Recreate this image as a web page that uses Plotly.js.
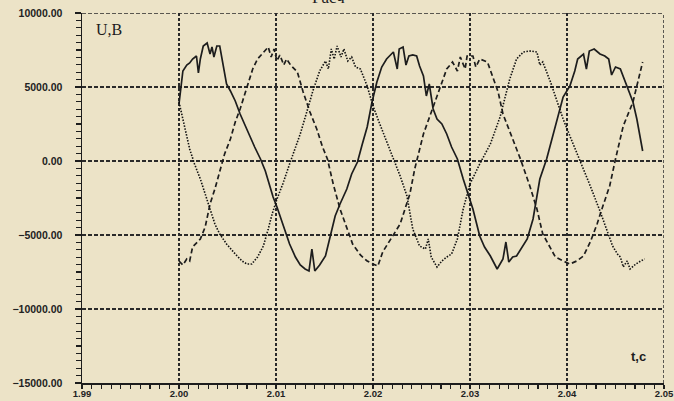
<!DOCTYPE html>
<html>
<head>
<meta charset="utf-8">
<script src="https://cdn.plot.ly/plotly-3.0.1.min.js"></script>
<style>
  html, body { margin: 0; padding: 0; background: #ece3c7; }
  #chart { width: 674px; height: 401px; }
</style>
</head>
<body>
<div id="chart"></div>
<script>
// Phase 1 (solid line)
const tSolid = [2.0000,2.0004,2.0008,2.0011,2.0014,2.0018,2.0020,2.0022,2.0025,2.0029,2.0032,2.0034,2.0036,2.0039,2.0042,2.0044,2.0047,2.0049,2.0053,2.0058,2.0063,2.0068,2.0073,2.0078,2.0084,2.0089,2.0094,2.0097,2.0101,2.0107,2.0114,2.0120,2.0125,2.0130,2.0134,2.0137,2.0140,2.0145,2.0151,2.0156,2.0161,2.0166,2.0173,2.0178,2.0184,2.0189,2.0194,2.0199,2.0204,2.0209,2.0214,2.0221,2.0225,2.0227,2.0231,2.0234,2.0237,2.0241,2.0245,2.0248,2.0252,2.0255,2.0258,2.0262,2.0266,2.0271,2.0276,2.0281,2.0287,2.0293,2.0300,2.0303,2.0310,2.0315,2.0321,2.0328,2.0334,2.0337,2.0340,2.0344,2.0348,2.0354,2.0359,2.0365,2.0369,2.0372,2.0379,2.0385,2.0390,2.0396,2.0403,2.0408,2.0411,2.0417,2.0420,2.0423,2.0428,2.0434,2.0439,2.0443,2.0446,2.0450,2.0455,2.0459,2.0462,2.0468,2.0472,2.0475,2.0478];
const uSolid = [3851,6081,6487,6622,6892,7095,5946,6892,7771,7973,7230,7703,7027,7771,7771,7095,6014,5203,4730,4054,3176,2365,1689,946,135,-676,-1757,-2433,-3108,-4257,-5608,-6487,-7027,-7298,-7433,-5946,-7433,-7027,-6419,-5068,-3716,-2906,-1892,-878,-68,1149,2297,3987,5338,6352,6892,7365,6216,7568,7703,6487,7095,7162,7095,6419,5743,4392,5203,3514,2838,2500,1824,946,135,-1216,-2568,-3243,-5068,-5811,-6419,-7298,-6622,-5473,-6825,-6487,-6419,-5811,-5270,-3919,-2433,-1216,135,1622,2838,4324,5068,6081,6892,7230,6216,7433,7568,7230,7095,6892,5811,6352,6216,5541,5068,3987,2838,1824,676];

// Phase 2 (dashed line)
const tDash = [2.0000,2.0004,2.0008,2.0011,2.0014,2.0022,2.0027,2.0032,2.0037,2.0042,2.0047,2.0053,2.0058,2.0063,2.0070,2.0076,2.0081,2.0087,2.0092,2.0095,2.0098,2.0101,2.0104,2.0108,2.0111,2.0115,2.0122,2.0128,2.0135,2.0142,2.0148,2.0153,2.0159,2.0166,2.0173,2.0179,2.0187,2.0194,2.0200,2.0205,2.0210,2.0218,2.0228,2.0233,2.0238,2.0243,2.0252,2.0262,2.0269,2.0276,2.0282,2.0287,2.0290,2.0295,2.0297,2.0303,2.0306,2.0310,2.0318,2.0324,2.0329,2.0334,2.0341,2.0352,2.0362,2.0369,2.0375,2.0383,2.0388,2.0396,2.0403,2.0410,2.0417,2.0424,2.0431,2.0437,2.0444,2.0450,2.0458,2.0468,2.0478];
const uDash = [-6757,-7027,-6622,-6757,-5811,-5270,-4460,-2906,-1892,-676,473,1487,2635,3514,5000,6216,6892,7365,7703,7027,7568,6757,7162,6487,6892,6487,6014,4662,3311,2162,946,135,-1554,-3243,-4460,-5608,-6352,-6757,-6960,-7095,-6149,-5270,-4257,-3243,-2230,-541,1824,3649,5000,6216,6689,6081,7027,6216,7095,7095,6352,6892,6689,5541,4662,3176,1960,135,-1757,-3243,-4933,-5946,-6487,-6757,-6960,-6757,-6419,-5473,-4257,-3041,-1689,135,2365,3987,6689];

// Phase 3 (dotted line)
const tDot = [2.0000,2.0006,2.0011,2.0016,2.0022,2.0027,2.0032,2.0037,2.0042,2.0049,2.0058,2.0065,2.0070,2.0075,2.0081,2.0087,2.0092,2.0096,2.0101,2.0107,2.0114,2.0125,2.0132,2.0138,2.0145,2.0151,2.0154,2.0157,2.0160,2.0163,2.0167,2.0170,2.0174,2.0178,2.0182,2.0187,2.0194,2.0200,2.0207,2.0218,2.0228,2.0235,2.0241,2.0248,2.0254,2.0257,2.0260,2.0266,2.0271,2.0276,2.0281,2.0287,2.0293,2.0300,2.0310,2.0321,2.0331,2.0341,2.0348,2.0355,2.0362,2.0369,2.0372,2.0375,2.0383,2.0390,2.0396,2.0403,2.0413,2.0424,2.0434,2.0441,2.0447,2.0452,2.0455,2.0458,2.0462,2.0465,2.0471,2.0476,2.0480];
const uDot = [3987,2162,811,-203,-1216,-2230,-3243,-4257,-4933,-5608,-6284,-6757,-6960,-6960,-6487,-5743,-4595,-3581,-2568,-1554,-203,1824,3379,4730,6081,6757,6216,7568,6892,7771,7027,7568,6757,7027,6352,6216,5068,3716,2500,608,-1014,-2365,-4595,-5743,-5946,-5270,-6487,-7162,-6757,-6487,-6284,-5270,-3243,-1554,-203,1149,2973,5541,6892,7365,7433,7365,6487,6689,5338,3987,2838,1689,135,-1689,-3379,-4595,-5743,-6284,-6487,-7162,-6757,-7298,-6960,-6757,-6622];

const xTicks = [1.99, 2.00, 2.01, 2.02, 2.03, 2.04, 2.05];
const yTicks = [-15000, -10000, -5000, 0, 5000, 10000];

const ink = '#1d1d1d';
const paper = '#ece3c7';

const traces = [
  {x: tSolid, y: uSolid, mode: 'lines', line: {color: ink, width: 1.7, dash: 'solid'}},
  {x: tDash, y: uDash, mode: 'lines', line: {color: ink, width: 1.7, dash: '5px,3px'}},
  {x: tDot, y: uDot, mode: 'lines', line: {color: '#111', width: 1.6, dash: '1.5px,1.5px'}}
];

const tickFont = {family: 'Liberation Sans, Arial, sans-serif', size: 10.5, color: '#222', weight: 'bold'};

const layout = {
  width: 674, height: 401,
  margin: {l: 82, r: 10, t: 13, b: 18, pad: 0},
  paper_bgcolor: paper,
  plot_bgcolor: paper,
  showlegend: false,
  xaxis: {
    range: [1.99, 2.05],
    tickvals: xTicks,
    ticktext: xTicks.map(v => v.toFixed(2)),
    ticks: 'outside', ticklen: 4, tickwidth: 1.3, tickcolor: ink,
    ticklabelstandoff: -3,
    ticklabeloverflow: 'allow',
    showline: true, linecolor: ink, linewidth: 1.5,
    showgrid: true, gridcolor: '#2a2a2a', gridwidth: 1.3, griddash: '3px,2px',
    zeroline: false,
    tickfont: {family: 'Liberation Sans, Arial, sans-serif', size: 9.5, color: '#222', weight: 'bold'},
    minor: {dtick: 0.001, tick0: 1.99, ticks: 'outside', ticklen: 4, tickwidth: 1.2, tickcolor: ink, showgrid: false},
    fixedrange: true
  },
  yaxis: {
    range: [-15000, 10000],
    tickvals: yTicks,
    ticktext: yTicks.map(v => (v < 0 ? '\u2212' : '') + Math.abs(v).toFixed(2)),
    ticks: 'outside', ticklen: 6, tickwidth: 1.3, tickcolor: ink,
    ticklabelstandoff: 10,
    showline: true, linecolor: ink, linewidth: 1.5,
    showgrid: true, gridcolor: '#2a2a2a', gridwidth: 1.3, griddash: '4px,2px',
    zeroline: false,
    tickfont: tickFont,
    minor: {dtick: 500, tick0: 0, ticks: 'outside', ticklen: 5, tickwidth: 1.2, tickcolor: ink, showgrid: false},
    fixedrange: true
  },
  shapes: [
    {type: 'line', xref: 'paper', yref: 'y', x0: 0, x1: 1, y0: 10000, y1: 10000, line: {color: '#2a2a2a', width: 1.3, dash: '4px,2px'}},
    {type: 'line', xref: 'x', yref: 'paper', x0: 2.05, x1: 2.05, y0: 0, y1: 1, line: {color: '#2a2a2a', width: 1.5, dash: '3px,2px'}}
  ],
  annotations: [
    {text: 'U,B', xref: 'paper', yref: 'paper', x: 0.02, y: 0.985, xanchor: 'left', yanchor: 'top', showarrow: false,
     font: {family: 'Liberation Serif, Times New Roman, serif', size: 16, color: ink}},
    {text: 't,c', xref: 'paper', yref: 'paper', x: 0.9725, y: 0.045, xanchor: 'right', yanchor: 'bottom', showarrow: false,
     font: {family: 'Liberation Sans, Arial, sans-serif', size: 13, color: ink, weight: 'bold'}},
    {text: 'Расч', xref: 'paper', yref: 'paper', x: 0.4227, y: 1.012, xanchor: 'center', yanchor: 'bottom', showarrow: false,
     font: {family: 'Liberation Serif, Times New Roman, serif', size: 17, color: ink}}
  ]
};

Plotly.newPlot('chart', traces, layout, {displayModeBar: false, staticPlot: true});
</script>
</body>
</html>
